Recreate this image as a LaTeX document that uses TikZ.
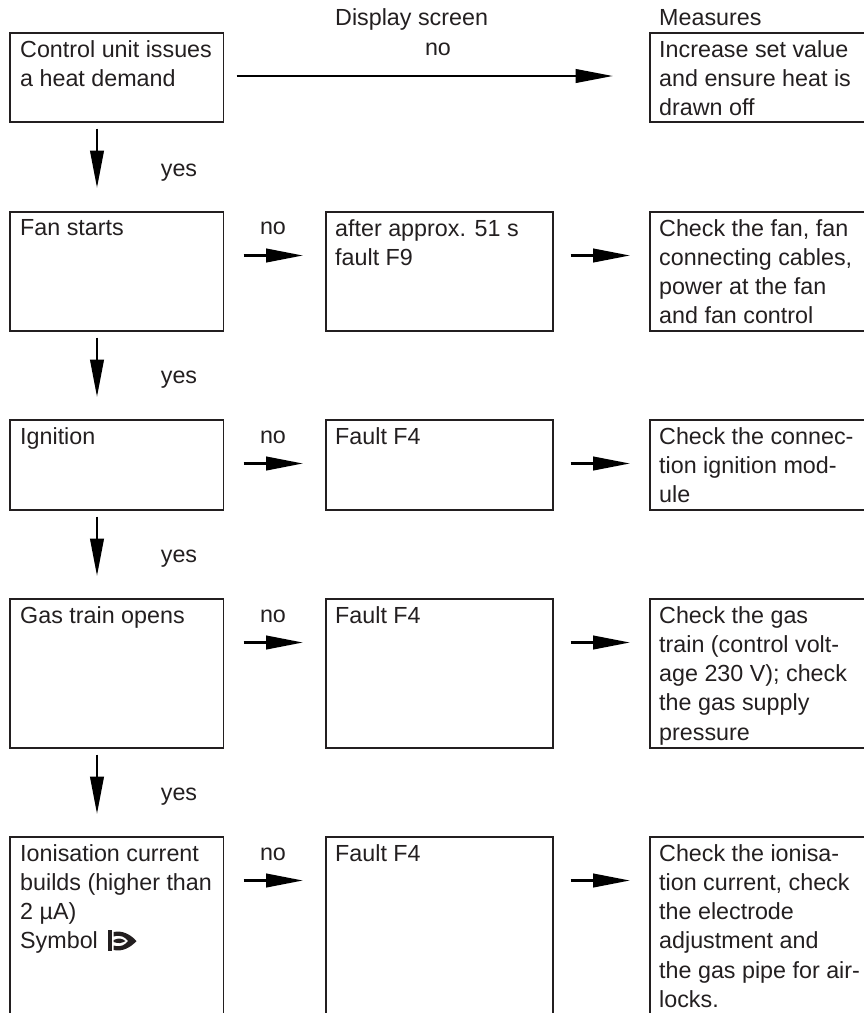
\documentclass[tikz,border=0pt]{standalone}
\usepackage{fontspec}
\setmainfont{Liberation Sans}
\usetikzlibrary{arrows.meta}
\definecolor{ink}{HTML}{231F20}
\newcommand{\fl}{\rule{0pt}{16pt}}
\tikzset{
  x=1pt,y=-1pt,
  boxa/.style={draw=ink,line width=1.5pt,rectangle,inner sep=0pt,anchor=north west,minimum width=213.5pt},
  boxb/.style={boxa,minimum width=227pt},
  boxc/.style={boxa,minimum width=260pt},
  txt/.style={text=ink,inner sep=0pt,anchor=north west,align=left,font=\fontsize{23.3pt}{29.3pt}\selectfont},
  lab/.style={text=ink,inner sep=0pt,anchor=base,font=\fontsize{23.3pt}{29.3pt}\selectfont},
  flow/.style={draw=black,line width=2.6pt,-{Triangle[length=37.5pt,width=13.5pt,sep=0pt]}},
  flowsm/.style={draw=black,line width=2.6pt,-{Triangle[length=37pt,width=13.5pt,sep=0pt]}},
}
\begin{document}
\begin{tikzpicture}
\useasboundingbox (0,0) rectangle (864,1013);
\clip (0,0) rectangle (864,1013);
% headers
\node[lab,anchor=base west] (h1) at (335,25) {Display screen};
\node[lab] (h2) at (438,55) {no};
\node[lab,anchor=base west] (h3) at (659,25) {Measures};
% boxes
\node[boxa,minimum height=89pt] (a1) at (9,32) {};
\node[boxc,minimum height=89pt] (c1) at (649,32) {};
\node[boxa,minimum height=119pt] (a2) at (9,211) {};
\node[boxb,minimum height=119pt] (b2) at (325,211) {};
\node[boxc,minimum height=119pt] (c2) at (649,211) {};
\node[boxa,minimum height=90pt] (a3) at (9,419) {};
\node[boxb,minimum height=90pt] (b3) at (325,419) {};
\node[boxc,minimum height=90pt] (c3) at (649,419) {};
\node[boxa,minimum height=149pt] (a4) at (9,598) {};
\node[boxb,minimum height=149pt] (b4) at (325,598) {};
\node[boxc,minimum height=149pt] (c4) at (649,598) {};
\node[boxa,minimum height=200pt] (a5) at (9,836) {};
\node[boxb,minimum height=200pt] (b5) at (325,836) {};
\node[boxc,minimum height=200pt] (c5) at (649,836) {};
% box texts
\node[txt] (ta1) at (20,40) {\fl Control unit issues\\a heat demand};
\node[txt] (tc1) at (659,40) {\fl Increase set value\\and ensure heat is\\drawn off};
\node[txt] (ta2) at (20,219) {\fl Fan starts};
\node[txt] (tb2) at (335,219) {\fl after approx. 51 s\\fault F9};
\node[txt] (tc2) at (659,219) {\fl Check the fan, fan\\connecting cables,\\power at the fan\\and fan control};
\node[txt] (ta3) at (20,427) {\fl Ignition};
\node[txt] (tb3) at (335,427) {\fl Fault F4};
\node[txt] (tc3) at (659,427) {\fl Check the connec-\\tion ignition mod-\\ule};
\node[txt] (ta4) at (20,606) {\fl Gas train opens};
\node[txt] (tb4) at (335,606) {\fl Fault F4};
\node[txt] (tc4) at (659,606) {\fl Check the gas\\train (control volt-\\age 230 V); check\\the gas supply\\pressure};
\node[txt] (ta5) at (20,844) {\fl Ionisation current\\builds (higher than\\2 µA)\\Symbol};
\node[txt] (tb5) at (335,844) {\fl Fault F4};
\node[txt] (tc5) at (659,844) {\fl Check the ionisa-\\tion current, check\\the electrode\\adjustment and\\the gas pipe for air-\\locks.};
% symbol
\fill[ink] (108,929.5) rectangle (112,951);
\fill[ink] (113.5,932) .. controls (123,930) and (131,935) .. (136.5,941) .. controls (131,947) and (123,952) .. (113.5,950) -- (113.5,945.5) .. controls (121,947.5) and (125,945) .. (128,941) .. controls (125,937) and (121,934.5) .. (113.5,936.5) -- cycle;
\fill[ink] (113.5,940) .. controls (119,937.5) and (122,938.5) .. (125.5,941) .. controls (122,943) and (119,944) .. (113.5,942) -- cycle;
% yes labels
\node[lab] (y1) at (179,176) {yes};
\node[lab] (y2) at (179,383) {yes};
\node[lab] (y3) at (179,562) {yes};
\node[lab] (y4) at (179,800) {yes};
% no labels
\node[lab] (n2) at (273,234) {no};
\node[lab] (n3) at (273,443) {no};
\node[lab] (n4) at (273,622) {no};
\node[lab] (n5) at (273,860) {no};
% vertical arrows
\draw[flow] ([shift={(88,6)}]a1.south west) -- ([shift={(88,-23)}]a2.north west);
\draw[flow] ([shift={(88,6)}]a2.south west) -- ([shift={(88,-22)}]a3.north west);
\draw[flow] ([shift={(88,6)}]a3.south west) -- ([shift={(88,-22)}]a4.north west);
\draw[flow] ([shift={(88,6)}]a4.south west) -- ([shift={(88,-22)}]a5.north west);
% horizontal arrows
\draw[flow] ([shift={(12.5,44)}]a1.north east) -- ([shift={(-36,44)}]c1.north west);
\foreach \r in {2,3,4,5}{
  \draw[flowsm] ([shift={(19.5,44.5)}]a\r.north east) -- ([shift={(-22,44.5)}]b\r.north west);
  \draw[flowsm] ([shift={(17,44.5)}]b\r.north east) -- ([shift={(-19,44.5)}]c\r.north west);
}
\end{tikzpicture}
\end{document}
